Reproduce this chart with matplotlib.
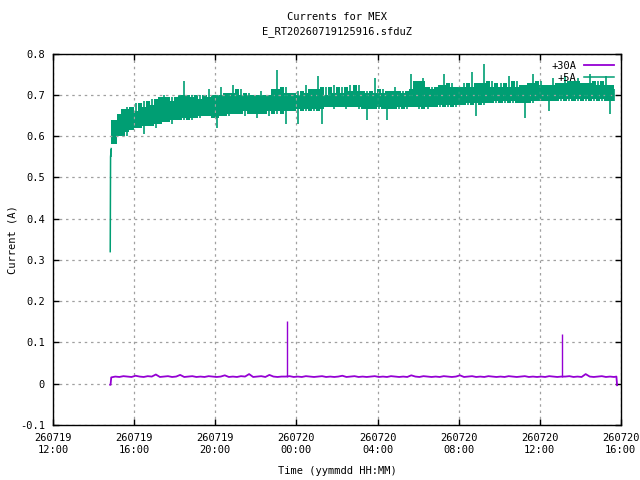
import datetime as dt
import matplotlib
matplotlib.use('Agg')
import matplotlib.pyplot as plt
import matplotlib.dates as mdates
from matplotlib.ticker import FuncFormatter, MultipleLocator

plt.rcParams['font.family'] = 'DejaVu Sans Mono'
plt.rcParams['font.size'] = 7.5
plt.rcParams['axes.unicode_minus'] = False

# sampling of the binned data: one bin every 12 minutes
bin_start = dt.datetime(2026, 7, 19, 14, 52)
bin_step = dt.timedelta(minutes=12)

# +5A current, low and high of each bin (A)
i5_lo = [0.55, 0.58, 0.60, 0.61, 0.60, 0.615, 0.62, 0.625, 0.605, 0.625,
         0.63, 0.62, 0.63, 0.635, 0.64, 0.63, 0.64, 0.645, 0.64, 0.645,
         0.64, 0.65, 0.645, 0.65, 0.65, 0.645, 0.62, 0.65, 0.655, 0.65,
         0.655, 0.655, 0.66, 0.65, 0.66, 0.655, 0.645, 0.655, 0.66, 0.65,
         0.66, 0.655, 0.66, 0.63, 0.66, 0.665, 0.63, 0.665, 0.66, 0.665,
         0.66, 0.665, 0.63, 0.67, 0.675, 0.665, 0.67, 0.675, 0.665, 0.67,
         0.675, 0.665, 0.67, 0.64, 0.665, 0.67, 0.665, 0.67, 0.64, 0.665,
         0.67, 0.665, 0.67, 0.665, 0.67, 0.67, 0.665, 0.67, 0.665, 0.67,
         0.675, 0.67, 0.675, 0.67, 0.675, 0.67, 0.675, 0.68, 0.675, 0.68,
         0.648, 0.68, 0.675, 0.68, 0.685, 0.68, 0.685, 0.68, 0.685, 0.68,
         0.685, 0.68, 0.645, 0.685, 0.68, 0.685, 0.69, 0.685, 0.66, 0.685,
         0.69, 0.685, 0.69, 0.685, 0.69, 0.685, 0.69, 0.685, 0.69, 0.685,
         0.69, 0.685, 0.69, 0.655, 0.685]
i5_hi = [0.57, 0.64, 0.655, 0.665, 0.67, 0.66, 0.68, 0.66, 0.685, 0.67,
         0.69, 0.675, 0.695, 0.70, 0.68, 0.695, 0.685, 0.70, 0.735, 0.695,
         0.70, 0.685, 0.70, 0.69, 0.715, 0.695, 0.70, 0.72, 0.69, 0.705,
         0.725, 0.70, 0.715, 0.695, 0.705, 0.70, 0.69, 0.71, 0.70, 0.69,
         0.715, 0.76, 0.70, 0.72, 0.705, 0.695, 0.71, 0.70, 0.725, 0.705,
         0.715, 0.745, 0.70, 0.72, 0.70, 0.725, 0.705, 0.72, 0.70, 0.725,
         0.71, 0.725, 0.705, 0.71, 0.70, 0.74, 0.705, 0.715, 0.70, 0.71,
         0.72, 0.705, 0.71, 0.705, 0.75, 0.715, 0.735, 0.74, 0.71, 0.72,
         0.715, 0.725, 0.75, 0.72, 0.73, 0.715, 0.72, 0.73, 0.715, 0.755,
         0.72, 0.73, 0.775, 0.72, 0.735, 0.72, 0.73, 0.715, 0.745, 0.72,
         0.735, 0.72, 0.725, 0.73, 0.75, 0.72, 0.735, 0.725, 0.72, 0.74,
         0.725, 0.73, 0.745, 0.725, 0.735, 0.74, 0.725, 0.73, 0.75, 0.725,
         0.735, 0.72, 0.745, 0.725, 0.715]

# +30A current, one value per bin (A)
i30 = [0.015, 0.017, 0.016, 0.018, 0.017, 0.016, 0.019, 0.017, 0.016, 0.018,
       0.017, 0.022, 0.016, 0.017, 0.018, 0.016, 0.017, 0.021, 0.016, 0.017,
       0.018, 0.016, 0.017, 0.016, 0.018, 0.017, 0.016, 0.017, 0.020, 0.016,
       0.017, 0.016, 0.018, 0.017, 0.023, 0.016, 0.017, 0.018, 0.016, 0.021,
       0.017, 0.016, 0.017, 0.017, 0.018, 0.016, 0.017, 0.016, 0.018, 0.017,
       0.016, 0.017, 0.018, 0.016, 0.017, 0.016, 0.017, 0.019, 0.016, 0.017,
       0.018, 0.016, 0.017, 0.016, 0.017, 0.018, 0.016, 0.017, 0.016, 0.018,
       0.017, 0.016, 0.017, 0.016, 0.020, 0.017, 0.016, 0.018, 0.017, 0.016,
       0.017, 0.016, 0.018, 0.017, 0.016, 0.017, 0.020, 0.016, 0.017, 0.018,
       0.016, 0.017, 0.016, 0.018, 0.017, 0.016, 0.017, 0.016, 0.018, 0.017,
       0.016, 0.017, 0.018, 0.016, 0.017, 0.016, 0.017, 0.016, 0.018, 0.017,
       0.016, 0.017, 0.017, 0.018, 0.016, 0.017, 0.016, 0.023, 0.017, 0.016,
       0.017, 0.018, 0.016, 0.017, 0.016]

# samples outside the bins
head_t = [dt.datetime(2026, 7, 19, 14, 49), dt.datetime(2026, 7, 19, 14, 50)]
i5_head = [0.32, 0.55]
i30_head = [-0.003, -0.003]
tail_t = [dt.datetime(2026, 7, 20, 15, 47), dt.datetime(2026, 7, 20, 15, 49)]
i30_tail = [0.017, -0.004]

# single-sample spikes on +30A
spike_t = [dt.datetime(2026, 7, 19, 23, 32), dt.datetime(2026, 7, 20, 13, 5)]
spike_base = [0.017, 0.017]
spike_v = [0.152, 0.121]

x_start = dt.datetime(2026, 7, 19, 12, 0)
x_end = dt.datetime(2026, 7, 20, 16, 0)

bin_t = [bin_start + k * bin_step for k in range(len(i5_lo))]

t30 = head_t + bin_t + tail_t
v30 = i30_head + i30 + i30_tail


def med3(vals, k):
    w = sorted(vals[max(k - 1, 0):k + 2])
    return w[len(w) // 2]


# dense part of the +5A band (median of neighbouring bins), spikes drawn thin
n = len(i5_lo)
core_top = [med3(i5_hi, k) for k in range(n)]
core_bot = [med3(i5_lo, k) for k in range(n)]

purple = '#9400d3'
green = '#009e73'

fig = plt.figure(figsize=(6.4, 4.8), dpi=100)
ax = fig.add_axes([0.083, 0.115, 0.887, 0.773])

l30, = ax.plot(t30, v30, color=purple, lw=1.3, label='+30A')
ax.vlines(spike_t, spike_base, spike_v, color=purple, lw=1.0)

ax.fill_between(bin_t, core_bot, core_top, step='mid', color=green, lw=0)
ax.vlines(bin_t, i5_lo, i5_hi, color=green, lw=1.2)
l5, = ax.plot(head_t + bin_t[:1], i5_head + i5_hi[:1], color=green, lw=1.1,
              label='+5A')

ax.set_xlim(x_start, x_end)
ax.set_ylim(-0.1, 0.8)
ax.xaxis.set_major_locator(mdates.HourLocator(byhour=[0, 4, 8, 12, 16, 20]))
ax.xaxis.set_major_formatter(mdates.DateFormatter('%y%m%d\n%H:%M'))
ax.yaxis.set_major_locator(MultipleLocator(0.1))
ax.yaxis.set_major_formatter(FuncFormatter(lambda v, p: '0' if abs(v) < 1e-9 else f'{v:.1f}'))

ax.grid(True, color='#a0a0a0', linestyle=(0, (2, 3)), linewidth=0.9)
ax.tick_params(direction='in', top=True, right=True, length=4.5, width=1,
               labelsize=7.5, pad=6)
for s in ax.spines.values():
    s.set_linewidth(1)

ax.set_title('Currents for MEX\nE_RT20260719125916.sfduZ', fontsize=7.5,
             pad=14, linespacing=1.5)
ax.set_xlabel('Time (yymmdd HH:MM)', fontsize=7.5, labelpad=8)
ax.set_ylabel('Current (A)', fontsize=7.5, labelpad=2)

ax.legend(handles=[l30, l5], loc='upper right', frameon=False,
          markerfirst=False, fontsize=7.5, handlelength=2.8,
          borderaxespad=0.3, labelspacing=0.2)

fig.savefig('out.png', dpi=100)
